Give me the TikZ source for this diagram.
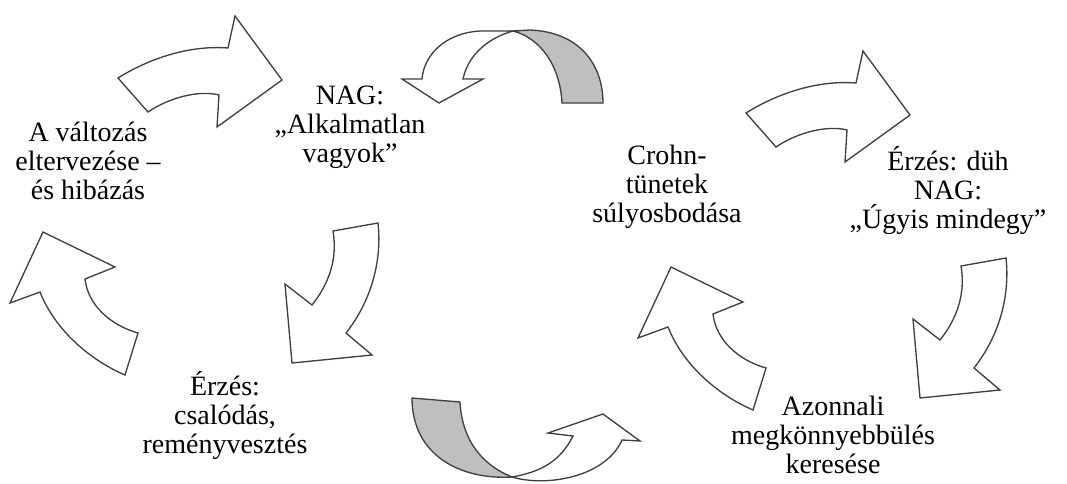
\documentclass[tikz,border=0pt]{standalone}
\usepackage{fontspec}
\setmainfont{Liberation Serif}
\tikzset{
  arrowline/.style={draw={rgb,255:red,64;green,64;blue,64}, line width=1pt, fill=white},
  backside/.style={arrowline, fill={rgb,255:red,191;green,191;blue,191}},
  cycletext/.style={inner sep=0.75pt, align=center, font=\fontsize{21}{21.75}\selectfont},
}
% bent arrows of one half of the cycle
\newcommand{\bentright}{\draw[arrowline] (118,78) .. controls (150,58) and (190,45) .. (228,48) -- (235,16) -- (282,80) -- (217,127) -- (219,95) .. controls (200,90) and (170,97) .. (148,112) -- cycle;}
\newcommand{\bentdown}{\draw[arrowline] (333,231) -- (378,223) .. controls (382,260) and (372,300) .. (346,333) -- (372,355) -- (292,363) -- (285,284) -- (312,305) .. controls (328,285) and (338,260) .. (333,231) -- cycle;}
\newcommand{\bentup}{\draw[arrowline] (43,232) -- (115,267) -- (85,279) .. controls (88,305) and (110,325) .. (138,333) -- (125,375) .. controls (90,360) and (55,330) .. (40,292) -- (10,303) -- cycle;}
\begin{document}
\begin{tikzpicture}[x=0.75pt,y=0.75pt,yscale=-1]
\useasboundingbox (0,0) rectangle (1067,483);

% left cycle
\bentright
\bentdown
\bentup
% right cycle
\begin{scope}[shift={(628,35)}]
\bentright
\bentdown
\bentup
\end{scope}

%Shape: twisted arrow, top
\draw[backside] (513,31) -- (530,30) .. controls (580,32) and (603,65) .. (603,103) -- (562,103) .. controls (560,65) and (540,38) .. (513,31) -- cycle;
\draw[arrowline] (513,31) -- (480,31) .. controls (445,33) and (424,55) .. (422,79) -- (402,79) -- (439,103) -- (483,79) -- (463,79) .. controls (468,55) and (488,38) .. (513,31) -- cycle;
%Shape: twisted arrow, bottom
\draw[backside] (412,398) -- (460,402) .. controls (462,440) and (482,465) .. (512,477) .. controls (460,480) and (412,455) .. (412,398) -- cycle;
\draw[arrowline] (512,477) .. controls (545,487) and (605,478) .. (622,440) -- (640,441) -- (603,414) -- (548,433) -- (573,436) .. controls (560,462) and (540,472) .. (512,477) -- cycle;

% Text Node
\node[cycletext] (plan) at (88,161) {A változás\\eltervezése –\\és hibázás};
% Text Node
\node[cycletext] (nag) at (350,127) {NAG:\\„Alkalmatlan\\vagyok”};
% Text Node
\node[cycletext] (despair) at (225,415) {Érzés:\\csalódás,\\reményvesztés};
% Text Node
\node[cycletext] (crohn) at (667,187) {Crohn-\\tünetek\\súlyosbodása};
% Text Node
\node[cycletext] (anger) at (948,190) {Érzés: düh\\NAG:\\„Úgyis mindegy”};
% Text Node
\node[cycletext] (relief) at (833,435) {Azonnali\\megkönnyebbülés\\keresése};

\end{tikzpicture}
\end{document}
